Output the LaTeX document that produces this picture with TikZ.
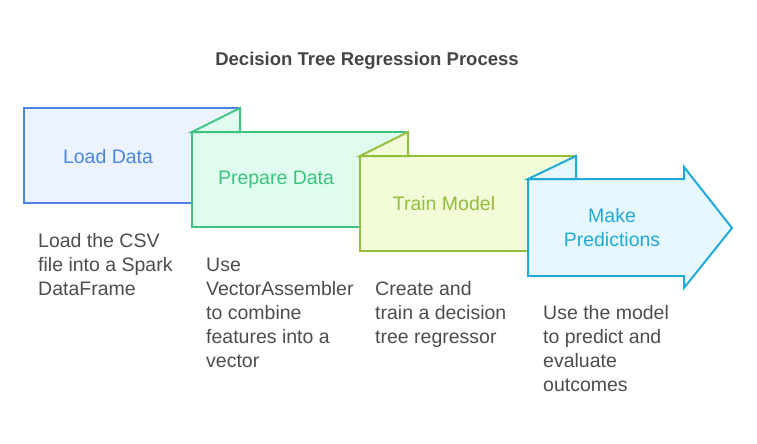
\documentclass[tikz,border=0pt]{standalone}
\usepackage{fontspec}
\setmainfont{Liberation Sans}
\definecolor{bluestroke}{HTML}{4A86E0}
\definecolor{bluefill}{HTML}{ECF3FF}
\definecolor{greenstroke}{HTML}{3CC47F}
\definecolor{greenfill}{HTML}{E0FCEF}
\definecolor{olivestroke}{HTML}{92BE3A}
\definecolor{olivefill}{HTML}{F3FCD9}
\definecolor{cyanstroke}{HTML}{21A9D9}
\definecolor{cyanfill}{HTML}{E6F7FD}
\definecolor{desctext}{HTML}{4D4D4D}
\definecolor{titletext}{HTML}{454545}
\begin{document}
\begin{tikzpicture}[x=1pt,y=-1pt,
  panel/.style={line width=2pt, line join=miter},
  lbl/.style={inner sep=0pt, align=center, font=\fontsize{19.5}{24}\selectfont},
  desc/.style={inner sep=0pt, align=left, anchor=base west, text=desctext, font=\fontsize{19.5}{24}\selectfont},
  ttl/.style={inner sep=0pt, text=titletext, font=\bfseries\fontsize{18.5}{22}\selectfont}]
\useasboundingbox (0,0) rectangle (757,444);
\fill[white] (0,0) rectangle (757,444);
% box 1
\draw[panel, draw=bluestroke, fill=bluefill] (24,108) rectangle (240,203);
% box 2
\draw[panel, draw=greenstroke, fill=greenfill] (192,132) rectangle (408,227);
\draw[panel, draw=greenstroke, fill=greenfill] (192,132) -- (240,108) -- (240,132) -- cycle;
% box 3
\draw[panel, draw=olivestroke, fill=olivefill] (360,156) rectangle (576,251);
\draw[panel, draw=olivestroke, fill=olivefill] (360,156) -- (408,132) -- (408,156) -- cycle;
% box 4 arrow
\draw[panel, draw=cyanstroke, fill=cyanfill] (528,179) -- (684,179) -- (684,167) -- (732,228) -- (684,288) -- (684,276) -- (528,276) -- cycle;
\draw[panel, draw=cyanstroke, fill=cyanfill] (528,179) -- (576,156) -- (576,179) -- cycle;
% labels
\node[lbl, text=bluestroke] (l1) at (108,157) {Load Data};
\node[lbl, text=greenstroke] (l2) at (276,180) {Prepare Data};
\node[lbl, text=olivestroke] (l3) at (444,204) {Train Model};
\node[lbl, text=cyanstroke] (l4) at (612,228) {Make\\Predictions};
% title
\node[ttl] (title) at (367,61) {Decision Tree Regression Process};
% descriptions (base anchor = baseline of last line)
\node[desc] (d1) at (38,295) {Load the CSV\\file into a Spark\\DataFrame};
\node[desc] (d2) at (206,367) {Use\\VectorAssembler\\to combine\\features into a\\vector};
\node[desc] (d3) at (375,343) {Create and\\train a decision\\tree regressor};
\node[desc] (d4) at (543,391) {Use the model\\to predict and\\evaluate\\outcomes};
\end{tikzpicture}
\end{document}
